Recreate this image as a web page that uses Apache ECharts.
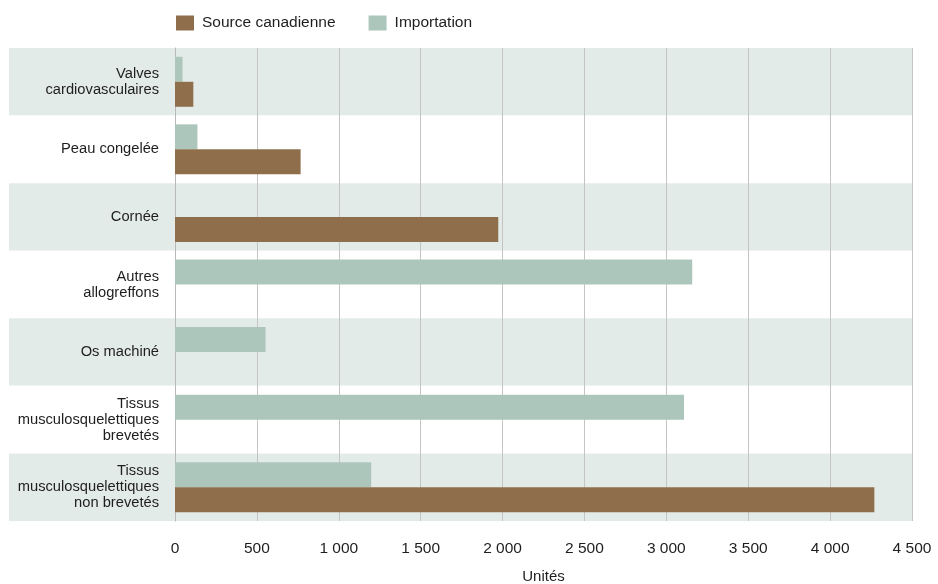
<!DOCTYPE html>
<html>
<head>
<meta charset="utf-8">
<script src="https://cdn.jsdelivr.net/npm/echarts@6/dist/echarts.min.js"></script>
<style>
  html, body { margin: 0; padding: 0; background: #ffffff; }
  #chart { width: 938px; height: 584px; }
</style>
</head>
<body>
<div id="chart"></div>
<script>
// Tissue categories, listed top to bottom
const categories = [
  'Valves\ncardiovasculaires',
  'Peau congelée',
  'Cornée',
  'Autres\nallogreffons',
  'Os machiné',
  'Tissus\nmusculosquelettiques\nbrevetés',
  'Tissus\nmusculosquelettiques\nnon brevetés'
];

// Units by origin
const importation = [46, 137, 0, 3158, 553, 3108, 1198];
const sourceCanadienne = [112, 767, 1974, 0, 0, 0, 4270];

// Value-axis ticks
const axisMin = 0;
const axisMax = 4500;
const axisStep = 500;

const FONT = '"Liberation Sans", Arial, sans-serif';
const TEXT = '#1e1e1e';

const chart = echarts.init(document.getElementById('chart'), null, { renderer: 'canvas' });

const fmt = v => String(v).replace(/\B(?=(\d{3})+(?!\d))/g, ' ');

chart.setOption({
  animation: false,
  textStyle: { fontFamily: FONT, color: TEXT },
  legend: {
    data: ['Source canadienne', 'Importation'],
    left: 176,
    top: 15,
    padding: 0,
    itemWidth: 18,
    itemHeight: 15,
    itemGap: 33,
    icon: 'rect',
    textStyle: { fontFamily: FONT, fontSize: 15.5, color: TEXT, padding: [0, 0, 0, 3] }
  },
  grid: [
    { left: 175, right: 26, top: 48, bottom: 63, containLabel: false, outerBoundsMode: 'none' },
    // wide band grid, reaches under the category labels
    { left: 9, right: 26, top: 48, bottom: 63, containLabel: false, outerBoundsMode: 'none' }
  ],
  xAxis: [
    {
      gridIndex: 0,
      type: 'value',
      min: axisMin,
      max: axisMax,
      interval: axisStep,
      name: 'Unités',
      nameLocation: 'middle',
      nameGap: 48,
      nameTextStyle: { fontFamily: FONT, fontSize: 15, color: TEXT },
      axisLine: { show: false },
      axisTick: { show: false },
      axisLabel: { fontFamily: FONT, fontSize: 15.5, color: TEXT, margin: 20, formatter: fmt },
      splitLine: { show: true, lineStyle: { color: '#c4c4c4', width: 1 } }
    },
    {
      gridIndex: 1,
      type: 'value',
      min: 0,
      max: 1,
      show: false,
      splitLine: { show: false }
    }
  ],
  yAxis: [
    {
      gridIndex: 0,
      type: 'category',
      data: categories,
      inverse: true,
      axisLine: { show: true, lineStyle: { color: '#b8b8b8', width: 1 } },
      axisTick: { show: false },
      axisLabel: {
        fontFamily: FONT,
        fontSize: 14.7,
        lineHeight: 16,
        color: TEXT,
        margin: 16,
        align: 'right'
      },
      splitLine: { show: false },
      z: 3
    },
    {
      gridIndex: 1,
      type: 'category',
      data: categories,
      inverse: true,
      axisLine: { show: false },
      axisTick: { show: false },
      axisLabel: { show: false },
      splitLine: { show: false },
      splitArea: { show: true, areaStyle: { color: ['#e3ebe8', '#ffffff'] } }
    }
  ],
  series: [
    {
      name: 'Importation',
      type: 'bar',
      xAxisIndex: 0,
      yAxisIndex: 0,
      data: importation,
      barWidth: 25,
      barGap: '0%',
      itemStyle: { color: '#adc6bb' },
      z: 4
    },
    {
      name: 'Source canadienne',
      type: 'bar',
      xAxisIndex: 0,
      yAxisIndex: 0,
      data: sourceCanadienne,
      barWidth: 25,
      barGap: '0%',
      itemStyle: { color: '#8f6f4b' },
      z: 4
    }
  ]
});
</script>
</body>
</html>
